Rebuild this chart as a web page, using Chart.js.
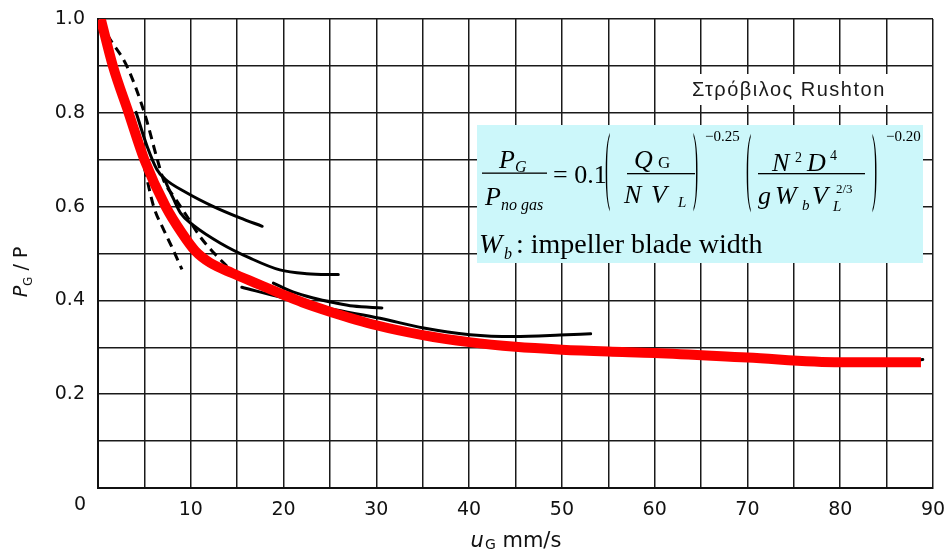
<!DOCTYPE html>
<html><head><meta charset="utf-8">
<script src="https://cdn.jsdelivr.net/npm/chart.js@4"></script>
<style>html,body{margin:0;padding:0;background:#fff;overflow:hidden}#wrap{width:949px;height:556px;position:relative}</style>
</head><body><div id="wrap"><canvas id="c" width="949" height="556"></canvas></div>
<script>
// ---- data ----
const xMin = 0, xMax = 90, xStep = 5, xLabelEvery = 10;
const yMin = 0, yMax = 1, yStep = 0.1;

const redX = [0.3, 1.6, 3.3, 5.0, 7.3, 9.0, 10.5, 12.1, 14.5, 17, 20, 22, 25, 30, 35, 40, 45, 50, 55, 60, 70, 80, 88.7];
const redY = [1.0, 0.9, 0.8, 0.7, 0.6, 0.545, 0.505, 0.48, 0.458, 0.437, 0.412, 0.396, 0.376, 0.347, 0.326, 0.311, 0.301, 0.295, 0.291, 0.288, 0.278, 0.268, 0.268];

const s1X = [4.1, 5.3, 6.35, 7.1, 9.6, 12.45, 15.3, 17.7];
const s1Y = [0.801, 0.728, 0.679, 0.661, 0.629, 0.600, 0.576, 0.558];

const s2X = [7.1, 8.1, 8.9, 10.3, 13.2, 16.4, 19.6, 22.5, 25.9];
const s2Y = [0.661, 0.618, 0.586, 0.56, 0.522, 0.49, 0.465, 0.457, 0.455];

const s3X = [18.9, 21, 23.2, 25.5, 27.5, 30.6];
const s3Y = [0.437, 0.418, 0.405, 0.395, 0.388, 0.384];

const s4X = [15.5, 20, 25, 30.4, 35.1, 40.1, 44.8, 49.8, 53.1];
const s4Y = [0.428, 0.405, 0.382, 0.362, 0.341, 0.327, 0.323, 0.326, 0.329];

const dRX = [0.25, 1.1, 3.1, 5.0, 6.4, 7.1, 8.3, 9.6, 11.0, 12.5, 14.0];
const dRY = [0.994, 0.963, 0.9, 0.8, 0.7, 0.655, 0.618, 0.579, 0.536, 0.501, 0.471];

const dLX = [5.0, 6.0, 7.07, 8.1, 9.05];
const dLY = [0.683, 0.6, 0.551, 0.508, 0.466];

const tailX = [87.6, 88.9];
const tailY = [0.271, 0.274];

const xTitleMain = 'u', xTitleSub = 'G', xTitleRest = ' mm/s';
const yTitleMain = 'P', yTitleSub = 'G', yTitleRest = ' / P';
const noteText = 'Στρόβιλος Rushton';

// ---- helpers ----
const pts = (xs, ys) => xs.map((x, i) => ({x, y: ys[i]}));
const blackLine = (xs, ys, dash) => ({
  data: pts(xs, ys), borderColor: '#000', borderWidth: 3, borderDash: dash || [],
  pointRadius: 0, cubicInterpolationMode: 'monotone', borderCapStyle: dash ? 'butt' : 'round', order: 1, fill: false
});

const extras = {
  id: 'extras',
  afterDraw(chart) {
    const ctx = chart.ctx, ca = chart.chartArea;
    const xs = chart.scales.x, ys = chart.scales.y;
    ctx.save();
    ctx.fillStyle = '#111';
    ctx.textBaseline = 'alphabetic';
    ctx.textAlign = 'left';
    const F = (size, italic, fam) => (italic ? 'italic ' : '') + size + 'px ' + (fam || '"DejaVu Sans"');

    // origin "0"
    ctx.font = F(19);
    ctx.textAlign = 'center'; ctx.textBaseline = 'middle';
    ctx.fillText('0', xs.getPixelForValue(0) - 18, ys.getPixelForValue(0) + 17);
    ctx.textAlign = 'left'; ctx.textBaseline = 'alphabetic';

    // x title
    ctx.font = F(21, true); const w1 = ctx.measureText(xTitleMain).width;
    ctx.font = F(14); const w2 = ctx.measureText(xTitleSub).width;
    ctx.font = F(21); const w3 = ctx.measureText(xTitleRest).width;
    let cx = (ca.left + ca.right) / 2 - (w1 + w2 + w3) / 2, by = 547;
    ctx.font = F(21, true); ctx.fillText(xTitleMain, cx, by);
    ctx.font = F(14); ctx.fillText(xTitleSub, cx + w1 + 1, by + 2);
    ctx.font = F(21); ctx.fillText(xTitleRest, cx + w1 + w2 + 1, by);

    // y title (rotated)
    ctx.save();
    ctx.translate(27, 272); ctx.rotate(-Math.PI / 2);
    ctx.font = F(19, true); const v1 = ctx.measureText(yTitleMain).width;
    ctx.font = F(12); const v2 = ctx.measureText(yTitleSub).width;
    ctx.font = F(19); const v3 = ctx.measureText(yTitleRest).width;
    let sx = -(v1 + v2 + v3) / 2;
    ctx.font = F(19, true); ctx.fillText(yTitleMain, sx, 0);
    ctx.font = F(12); ctx.fillText(yTitleSub, sx + v1, 5);
    ctx.font = F(19); ctx.fillText(yTitleRest, sx + v1 + v2, 0);
    ctx.restore();

    // note text with white backing
    ctx.fillStyle = '#fff';
    ctx.fillRect(688, 74, 204, 31);
    ctx.fillStyle = '#1a1a1a';
    ctx.font = F(20, false, '"Liberation Sans"');
    ctx.letterSpacing = '1.5px';
    ctx.fillText(noteText, 692, 96);
    ctx.letterSpacing = '0px';

    // formula box
    ctx.fillStyle = '#ccf7fa';
    ctx.fillRect(477, 125, 446, 138);
    ctx.fillStyle = '#000';
    const SER = '"Liberation Serif"';
    const t = (s, x, y, size, it) => { ctx.font = F(size, it, SER); ctx.fillText(s, x, y); };
    const paren = (s, x, yc) => {
      ctx.save(); ctx.translate(x, yc + 21); ctx.scale(0.6, 3.3);
      ctx.font = F(26, false, SER); ctx.fillText(s, 0, 0); ctx.restore();
    };
    // P_G / P_no gas
    t('P', 499, 168, 26, true); t('G', 515, 172, 16, true);
    ctx.fillRect(482, 172.5, 65, 1.3);
    t('P', 485, 205, 26, true); t('no gas', 501, 210, 16, true);
    t('= 0.1', 553, 183, 26, false);
    // (Q_G / N V_L)^-0.25
    paren('(', 605, 172);
    t('Q', 634, 168, 26, true); t('G', 658, 168, 17, false);
    ctx.fillRect(627, 173, 68, 1.3);
    t('N', 624, 203, 26, true); t('V', 651, 203, 26, true); t('L', 678, 207, 15, true);
    paren(')', 693, 172);
    t('\u22120.25', 705, 141, 15, false);
    // (N^2 D^4 / g W_b V_L^{2/3})^-0.20
    paren('(', 746, 173);
    t('N', 772, 171, 26, true); t('2', 795, 162, 14, false); t('D', 807, 171, 26, true); t('4', 830, 160, 14, false);
    ctx.fillRect(758, 173, 107, 1.3);
    t('g', 758, 204, 26, true); t('W', 775, 204, 26, true); t('b', 802, 210, 15, true);
    t('V', 812, 204, 26, true); t('L', 833, 211, 15, true); t('2/3', 836, 193, 13, false);
    paren(')', 872, 173);
    t('\u22120.20', 886, 141, 15, false);
    // W_b : impeller blade width
    t('W', 479, 253, 28, true); t('b', 504, 259, 16, true);
    t(': impeller blade width', 516, 253, 28, false);
    ctx.restore();
  }
};

new Chart(document.getElementById('c'), {
  type: 'line',
  data: {
    datasets: [
      { data: pts(redX, redY), borderColor: '#ff0000', borderWidth: 10, pointRadius: 0,
        cubicInterpolationMode: 'monotone', borderCapStyle: 'butt', order: 0, fill: false },
      blackLine(s1X, s1Y), blackLine(s2X, s2Y), blackLine(s3X, s3Y), blackLine(s4X, s4Y),
      blackLine(dRX, dRY, [9, 6]), blackLine(dLX, dLY, [9, 6]), blackLine(tailX, tailY)
    ]
  },
  options: {
    responsive: false, animation: false,
    layout: { padding: { left: 0, right: 16, top: 19, bottom: 0 } },
    plugins: { legend: { display: false }, tooltip: { enabled: false } },
    scales: {
      x: {
        type: 'linear', min: xMin, max: xMax,
        ticks: { stepSize: xStep, autoSkip: false, maxRotation: 0, padding: 11, color: '#111',
          font: { family: 'DejaVu Sans', size: 19 },
          callback: v => (v % xLabelEvery === 0 && v !== 0) ? String(v) : '' },
        grid: { color: '#1a1a1a', lineWidth: 1.5, drawTicks: false },
        border: { color: '#111', width: 2 },
        afterFit: s => { s.height = 68; s.paddingLeft = 0; s.paddingRight = 0; }
      },
      y: {
        type: 'linear', min: yMin, max: yMax,
        ticks: { stepSize: yStep, autoSkip: false, padding: 13, color: '#111',
          font: { family: 'DejaVu Sans', size: 19 },
          callback: v => { const k = Math.round(v * 10); return (k % 2 === 0 && k > 0) ? v.toFixed(1) : ''; } },
        grid: { color: '#1a1a1a', lineWidth: 1.5, drawTicks: false },
        border: { color: '#111', width: 2 },
        afterFit: s => { s.width = 98; s.paddingTop = 0; s.paddingBottom = 0; }
      }
    }
  },
  plugins: [extras]
});
</script></body></html>
